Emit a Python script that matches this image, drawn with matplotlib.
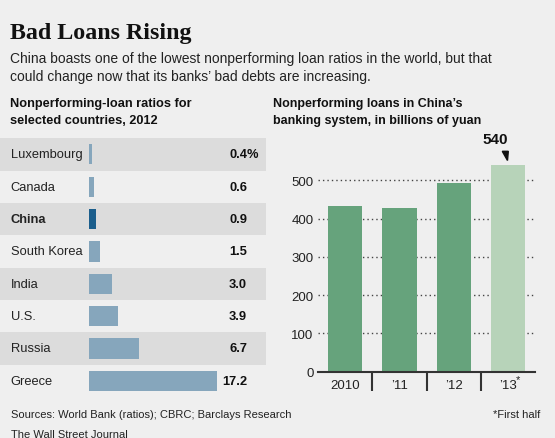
import matplotlib.pyplot as plt
from matplotlib.patches import Polygon

W, H = 555, 439
BG = '#efefef'
SANS = ['Liberation Sans', 'DejaVu Sans']

# left panel: nonperforming-loan ratios, 2012 (%)
countries = ['Luxembourg', 'Canada', 'China', 'South Korea', 'India', 'U.S.', 'Russia', 'Greece']
ratios = [0.4, 0.6, 0.9, 1.5, 3.0, 3.9, 6.7, 17.2]
ratio_labels = ['0.4', '0.6', '0.9', '1.5', '3.0', '3.9', '6.7', '17.2']

# right panel: NPLs in China's banking system, billions of yuan
years = ['2010', '\u201911', '\u201912', '\u201913']
npl = [434, 428, 494, 540]
yticks = [0, 100, 200, 300, 400, 500]

plt.rcParams['font.family'] = SANS


def fx(px):
    return px / W


def fy(py):
    return 1 - py / H


fig = plt.figure(figsize=(W / 100, H / 100), dpi=100, facecolor=BG)

# header
fig.text(fx(10), fy(33), 'Bad Loans Rising', family=['Liberation Serif', 'DejaVu Serif'],
         fontweight='bold', fontsize=17.3, color='#111111', va='center')
fig.text(fx(10), fy(58.5), 'China boasts one of the lowest nonperforming loan ratios in the world, but that',
         fontsize=10, color='#222222', va='center')
fig.text(fx(10), fy(77.5), 'could change now that its banks\u2019 bad debts are increasing.',
         fontsize=10, color='#222222', va='center')
fig.text(fx(10), fy(103.5), 'Nonperforming-loan ratios for', fontsize=9.2, fontweight='bold',
         color='#111111', va='center')
fig.text(fx(10), fy(121), 'selected countries, 2012', fontsize=9.2, fontweight='bold',
         color='#111111', va='center')
fig.text(fx(273), fy(103.5), 'Nonperforming loans in China\u2019s', fontsize=9.0, fontweight='bold',
         color='#111111', va='center')
fig.text(fx(273), fy(121), 'banking system, in billions of yuan', fontsize=9.0, fontweight='bold',
         color='#111111', va='center')

# left bar chart
ax1 = fig.add_axes([0, fy(398), fx(265.7), (398 - 139.3) / H])
ax1.set_facecolor(BG)
px_per_unit = 7.4
ax1.set_xlim(-89.3 / px_per_unit, (265.7 - 89.3) / px_per_unit)
ax1.set_ylim(len(countries) - 0.5, -0.5)
for i in range(0, len(countries), 2):
    ax1.axhspan(i - 0.5, i + 0.5, color='#dcdcdc', lw=0, zorder=0)
colors = ['#1b5e8c' if c == 'China' else '#86a6bc' for c in countries]
ax1.barh(range(len(countries)), ratios, height=0.62, color=colors, zorder=2)
for i, (c, lab) in enumerate(zip(countries, ratio_labels)):
    ax1.text(10.7 / 265.7, i, c, transform=ax1.get_yaxis_transform(), va='center', ha='left',
             fontsize=9.3, color='#222222', fontweight='bold' if c == 'China' else 'normal')
    ax1.text(247 / 265.7, i, lab, transform=ax1.get_yaxis_transform(), va='center', ha='right',
             fontsize=9.3, color='#111111', fontweight='bold')
ax1.text(247 / 265.7, 0, '%', transform=ax1.get_yaxis_transform(), va='center', ha='left',
         fontsize=9.3, color='#111111', fontweight='bold')
ax1.axis('off')

# right bar chart
ax2 = fig.add_axes([fx(317.7), fy(372.7), (535 - 317.7) / W, (372.7 - 158.4) / H])
ax2.set_facecolor(BG)
ax2.set_ylim(0, 560)
ax2.set_xlim(-0.509, 3.5)
bar_colors = ['#66a37c', '#66a37c', '#66a37c', '#b7d3b9']
ax2.bar(range(len(years)), npl, width=0.633, color=bar_colors, zorder=2)
for t in yticks[1:]:
    ax2.axhline(t, color='#444444', lw=1, ls=(0, (1, 2.2)), zorder=1)
ax2.set_yticks(yticks)
ax2.set_yticklabels([str(t) for t in yticks], fontsize=9.5, color='#222222')
ax2.set_xticks(range(len(years)))
ax2.set_xticklabels(years, fontsize=9.5, color='#222222')
ax2.tick_params(axis='both', length=0)
ax2.tick_params(axis='y', pad=3)
ax2.tick_params(axis='x', pad=5)
for s in ['top', 'right', 'left']:
    ax2.spines[s].set_visible(False)
ax2.spines['bottom'].set_color('#333333')
ax2.spines['bottom'].set_linewidth(1.5)
ax2.vlines([0.5, 1.5, 2.5], -19 / 214.3, 0, transform=ax2.get_xaxis_transform(),
           color='#333333', lw=1.5, clip_on=False)
ax2.text(3.15, -0.034, '*', transform=ax2.get_xaxis_transform(), fontsize=8,
         color='#222222', ha='left', va='center')

# 540 callout
fig.text(fx(508), fy(140), str(npl[-1]), fontsize=11, fontweight='bold', color='#111111',
         ha='right', va='center')
tri = Polygon([(fx(502.3), fy(152.3)), (fx(508.3), fy(152.3)), (fx(507.5), fy(161.5))],
              closed=True, transform=fig.transFigure, color='#111111')
fig.patches.append(tri)

# footer
fig.text(fx(10.7), fy(415), 'Sources: World Bank (ratios); CBRC; Barclays Research',
         fontsize=8, color='#222222', va='center')
fig.text(fx(10.7), fy(435.5), 'The Wall Street Journal', fontsize=8, color='#222222', va='center')
fig.text(fx(540.7), fy(415), '*First half', fontsize=8, color='#222222', va='center', ha='right')

fig.savefig('out.png', dpi=100, facecolor=BG)
